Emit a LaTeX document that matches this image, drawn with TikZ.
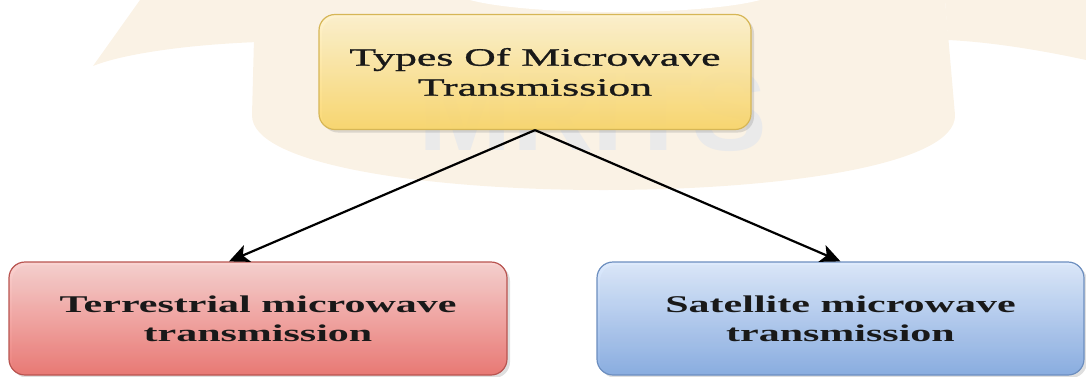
\documentclass[tikz,border=0pt]{standalone}
\usepackage{fontspec}
\setmainfont{Liberation Serif}
\newfontfamily\wideserif[FakeStretch=1.75]{Liberation Serif}
\newfontfamily\wideseriftop[FakeStretch=1.75,FakeBold=1.2]{Liberation Serif}
\newfontfamily\marksans{Liberation Sans}
\usetikzlibrary{arrows.meta,shadows}

\definecolor{wmbeige}{RGB}{250,242,229}
\definecolor{wmgray}{RGB}{234,234,234}

\begin{document}
\begin{tikzpicture}[x=0.5pt,y=-0.5pt]

\useasboundingbox (0,0) rectangle (1086,376);

\tikzstyle{box}=[rectangle, rounded corners=8pt, draw, line width=0.6pt, align=center, inner sep=0pt, text=black!90, fill opacity=0.88, text opacity=1,
  drop shadow={shadow xshift=1.5pt, shadow yshift=-1.5pt, opacity=0.25}]
\tikzstyle{yellowbox}=[box, top color={rgb,255:red,255;green,243;blue,205}, bottom color={rgb,255:red,252;green,214;blue,100}, draw={rgb,255:red,214;green,182;blue,86}]
\tikzstyle{redbox}=[box, top color={rgb,255:red,248;green,206;blue,204}, bottom color={rgb,255:red,234;green,107;blue,102}, draw={rgb,255:red,184;green,84;blue,80}]
\tikzstyle{bluebox}=[box, top color={rgb,255:red,218;green,232;blue,252}, bottom color={rgb,255:red,126;green,166;blue,224}, draw={rgb,255:red,108;green,142;blue,191}]
\tikzstyle{arr}=[line width=1.1pt, -{Stealth[length=10pt,width=9pt,inset=2.5pt]}]

% watermark emblem
\fill[wmbeige] (255,0) -- (252,115) .. controls (250,215) and (958,215) .. (955,115) -- (945,0) -- cycle;
\fill[white] (470,0) .. controls (530,16) and (700,16) .. (760,0) -- cycle;
\fill[wmbeige] (93,66) -- (140,0) -- (258,0) -- (258,42) .. controls (180,45) and (120,55) .. (93,66) -- cycle;
\fill[wmbeige] (945,0) -- (1086,0) -- (1086,60) .. controls (1040,50) and (990,42) .. (948,40) -- cycle;

% watermark text
\node[anchor=base, inner sep=0pt, text=wmgray, font=\marksans\bfseries\fontsize{56}{56}\selectfont] (mark) at (593,150) {MRITS};

% boxes
\node[yellowbox, minimum width=216pt, minimum height=57.5pt, font=\wideseriftop\fontsize{12.5}{15}\selectfont] (types) at (535,72) {Types Of Microwave\\Transmission};
\node[redbox, minimum width=249pt, minimum height=56.5pt, font=\wideserif\bfseries\fontsize{12}{14.5}\selectfont] (terr) at (258,318.5) {Terrestrial microwave\\transmission};
\node[bluebox, minimum width=243.5pt, minimum height=56.5pt, font=\wideserif\bfseries\fontsize{12}{14.5}\selectfont] (sat) at (840.5,318.5) {Satellite microwave\\transmission};

% arrows
\draw[arr] (types.south) -- ([xshift=-14.5pt]terr.north);
\draw[arr] (types.south) -- (sat.north);

\end{tikzpicture}
\end{document}
